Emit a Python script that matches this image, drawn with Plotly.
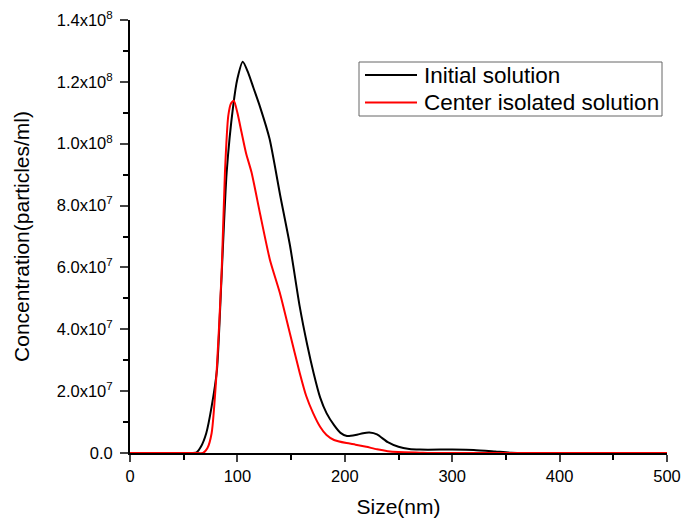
import plotly.graph_objects as go

series_names = ["Initial solution", "Center isolated solution"]
series_colors = ["#000000", "#ff0000"]

# Initial solution (black)
size_initial = [0, 55, 62, 66, 71, 76, 81, 85, 90, 96, 100, 105, 110, 115, 121, 130, 140, 149, 158, 165, 171, 177, 183, 190, 196, 202, 210, 217, 223, 230, 240, 250, 260, 270, 300, 320, 340, 355, 370, 500]
conc_initial = [0, 0, 0.02e7, 0.2e7, 0.64e7, 1.5e7, 2.7e7, 5.5e7, 9.07e7, 11.2e7, 12.1e7, 12.65e7, 12.3e7, 11.8e7, 11.2e7, 10.15e7, 8.3e7, 6.7e7, 4.74e7, 3.5e7, 2.58e7, 1.8e7, 1.29e7, 0.9e7, 0.65e7, 0.55e7, 0.58e7, 0.64e7, 0.66e7, 0.6e7, 0.35e7, 0.2e7, 0.13e7, 0.11e7, 0.11e7, 0.1e7, 0.05e7, 0.01e7, 0, 0]

# Center isolated solution (red)
size_center = [0, 60, 68, 72, 76, 80.6, 85.3, 88.4, 91.5, 94, 96.7, 100, 103.9, 108, 113.2, 120.9, 130.2, 139.5, 148.8, 158.1, 164, 170.5, 177, 183, 190, 201.6, 210, 220, 230, 240, 250, 270, 280, 500]
conc_center = [0, 0, 0, 0.15e7, 0.64e7, 2.58e7, 5.82e7, 9.07e7, 10.9e7, 11.3e7, 11.39e7, 11.0e7, 10.36e7, 9.7e7, 9.07e7, 7.77e7, 6.26e7, 5.18e7, 3.88e7, 2.58e7, 1.85e7, 1.29e7, 0.85e7, 0.58e7, 0.42e7, 0.32e7, 0.27e7, 0.2e7, 0.12e7, 0.06e7, 0.03e7, 0.01e7, 0, 0]

x_ticks = [0, 100, 200, 300, 400, 500]
y_tickvals = [0, 2e7, 4e7, 6e7, 8e7, 1e8, 1.2e8, 1.4e8]
y_ticktext = ["0.0", "2.0x10<sup>7</sup>", "4.0x10<sup>7</sup>", "6.0x10<sup>7</sup>", "8.0x10<sup>7</sup>",
              "1.0x10<sup>8</sup>", "1.2x10<sup>8</sup>", "1.4x10<sup>8</sup>"]

FONT = "Arial, Liberation Sans, sans-serif"
W, H = 682, 518
ML, MR, MT, MB = 130, 15, 20, 65
PW, PH = W - ML - MR, H - MT - MB


def px_x(px):
    return (px - ML) / PW


def px_y(py):
    return (H - MB - py) / PH


fig = go.Figure()
fig.add_trace(go.Scatter(x=size_initial, y=conc_initial, mode="lines", name=series_names[0],
                         line=dict(color=series_colors[0], width=2, shape="spline", smoothing=0.6)))
fig.add_trace(go.Scatter(x=size_center, y=conc_center, mode="lines", name=series_names[1],
                         line=dict(color=series_colors[1], width=2, shape="spline", smoothing=0.6)))

# Legend drawn as box + line samples + text
shapes = [dict(type="rect", xref="paper", yref="paper", x0=px_x(359), x1=px_x(662), y0=px_y(116), y1=px_y(62),
               line=dict(color="#666666", width=1), fillcolor="white", layer="above")]
annotations = []
for i, (nm, col) in enumerate(zip(series_names, series_colors)):
    yy = px_y(75 + i * 27.5)
    shapes.append(dict(type="line", xref="paper", yref="paper", x0=px_x(365), x1=px_x(417), y0=yy, y1=yy,
                       line=dict(color=col, width=2), layer="above"))
    annotations.append(dict(text=nm, xref="paper", yref="paper", x=px_x(422), y=yy, xanchor="left",
                            yanchor="middle", showarrow=False, font=dict(size=22.5, family=FONT, color="#000000")))

fig.update_layout(
    width=W, height=H,
    margin=dict(l=ML, r=MR, t=MT, b=MB),
    paper_bgcolor="white", plot_bgcolor="white",
    font=dict(family=FONT, color="#000000"),
    showlegend=False,
    shapes=shapes, annotations=annotations,
    xaxis=dict(range=[0, 500], tickvals=x_ticks, ticks="outside", ticklen=7, tickwidth=2,
               showline=True, linewidth=2, linecolor="black", showgrid=False, zeroline=False,
               tickfont=dict(size=16.5), layer="below traces", automargin=False,
               minor=dict(dtick=50, tick0=0, ticks="outside", ticklen=5, tickwidth=2, tickcolor="black"),
               title=dict(text="Size(nm)", font=dict(size=21), standoff=17)),
    yaxis=dict(range=[0, 1.4e8], tickvals=y_tickvals, ticktext=y_ticktext, ticks="outside",
               ticklen=8, tickwidth=2, showline=True, linewidth=2, linecolor="black",
               showgrid=False, zeroline=False, tickfont=dict(size=16.5), layer="below traces",
               automargin=False, ticklabelstandoff=4,
               minor=dict(dtick=1e7, tick0=0, ticks="outside", ticklen=5, tickwidth=2, tickcolor="black"),
               title=dict(text="Concentration(particles/ml)", font=dict(size=21), standoff=21)),
)

fig.write_html("out.html", config={"displayModeBar": False},
               post_script="document.body.style.margin='0';")
